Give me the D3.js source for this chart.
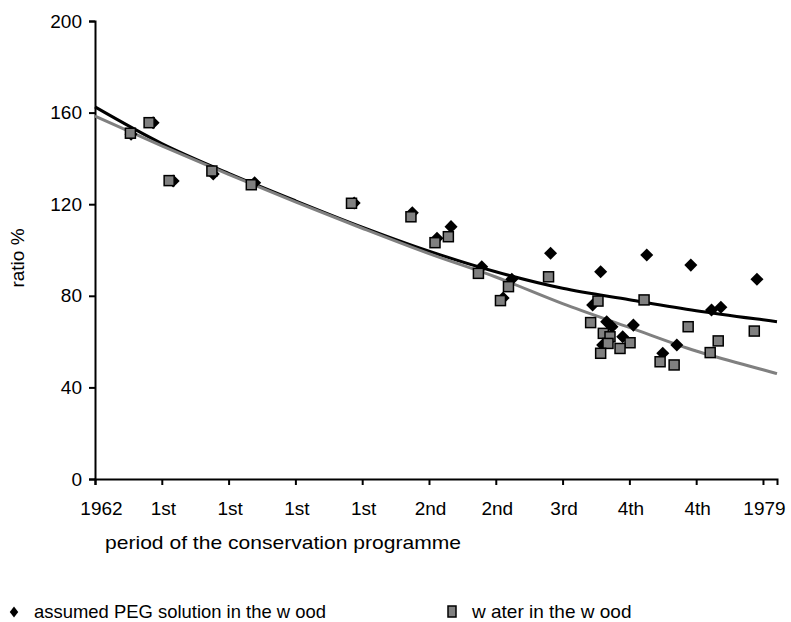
<!DOCTYPE html>
<html><head><meta charset="utf-8">
<script src="https://cdn.jsdelivr.net/npm/d3@7"></script>
<style>body{margin:0;background:#fff;} text{font-family:"Liberation Sans",Arial,sans-serif;}</style>
</head><body><svg id="c" width="791" height="622"></svg>
<script>
const tickLabels = ["1962","1st","1st","1st","1st","2nd","2nd","3rd","4th","4th","1979"];
const yTicks = [0,40,80,120,160,200];
// PEG series: [category position, ratio %]
const pegX = [0.54,0.87,1.17,1.77,2.39,3.88,4.75,5.12,5.33,5.79,6.24,6.11,6.82,7.57,8.26,8.92,9.91,7.45,9.23,9.37,7.66,7.74,8.06,7.90,7.60,8.71,8.50];
const pegY = [150.5,155.6,130.1,133.2,129.4,120.5,116.3,105.1,110.2,92.7,87.2,79,98.6,90.5,97.8,93.4,87.2,76,73.8,75.0,68.7,66.5,67.2,62.1,58.5,58.5,54.9];
// water series
const waterX = [0.53,0.81,1.11,1.75,2.34,3.84,4.73,5.09,5.29,5.74,6.19,6.07,6.79,7.53,8.22,7.42,7.61,7.71,7.68,8.01,7.86,7.57,8.88,9.33,9.21,8.46,8.67,9.87];
const waterY = [151,155.6,130.3,134.5,128.5,120.4,114.5,103.2,105.8,89.8,84.0,77.9,88.3,77.7,78.2,68.3,63.6,62.1,59.2,59.5,57.0,54.9,66.5,60.3,55.2,51.2,49.8,64.6];
// trendlines sampled at category positions
const trendX = [0,1,2,3,4,5,6,7,8,9,10,10.21];
const pegTrend = [162.5,146.5,133.5,121.5,110,99.5,90.5,83.3,78.3,73.5,69.5,68.7];
const waterTrend = [158.5,145.5,133,121,109.5,98.4,88.2,76.6,66.2,55.9,47.7,46];
const legendLabels = ["assumed PEG solution in the w ood","w ater in the w ood"];

const FS = 19;
const svg = d3.select("#c");
const x = d3.scaleLinear().domain([0,10.21]).range([95,777]);
const y = d3.scaleLinear().domain([0,200]).range([479,21]);

// axes
const xAxis = d3.axisBottom(x).tickValues(d3.range(tickLabels.length)).tickFormat(i=>tickLabels[i]).tickSizeOuter(0).tickSize(6).tickPadding(17);
const gx = svg.append("g").attr("transform","translate(0,479)").call(xAxis);
gx.attr("font-size",FS).attr("font-family","Liberation Sans, Arial, sans-serif");
gx.select(".domain").attr("stroke","#000").attr("stroke-width",2);
gx.selectAll(".tick line").attr("stroke","#000").attr("stroke-width",2);
gx.selectAll("text").attr("fill","#000").attr("dx",(d,i)=>i===0?6:1);

const yAxis = d3.axisLeft(y).tickValues(yTicks).tickSizeOuter(0).tickSize(6).tickPadding(7);
const gy = svg.append("g").attr("transform","translate(95,0)").call(yAxis);
gy.attr("font-size",FS).attr("font-family","Liberation Sans, Arial, sans-serif");
gy.select(".domain").attr("stroke","#000").attr("stroke-width",2);
gy.selectAll(".tick line").attr("stroke","#000").attr("stroke-width",2);
gy.selectAll("text").attr("fill","#000");

svg.append("text").attr("x",105).attr("y",549).attr("font-size",FS)
  .attr("textLength",356).attr("lengthAdjust","spacingAndGlyphs").text("period of the conservation programme");
svg.append("text").attr("transform","translate(24,258) rotate(-90)").attr("text-anchor","middle").attr("font-size",FS).text("ratio %");

// trendlines
const line = d3.line().x(d=>x(d[0])).y(d=>y(d[1])).curve(d3.curveMonotoneX);
svg.append("path").datum(trendX.map((v,i)=>[v,pegTrend[i]])).attr("d",line).attr("fill","none").attr("stroke","#000").attr("stroke-width",3);
svg.append("path").datum(trendX.map((v,i)=>[v,waterTrend[i]])).attr("d",line).attr("fill","none").attr("stroke","#808080").attr("stroke-width",3);

// markers
const diamond = d3.symbol().type(d3.symbolSquare).size(85);
svg.append("g").selectAll("path").data(pegX.map((v,i)=>[v,pegY[i]])).join("path")
  .attr("d",diamond).attr("transform",d=>`translate(${x(d[0])},${y(d[1])}) rotate(45)`).attr("fill","#000");
svg.append("g").selectAll("rect").data(waterX.map((v,i)=>[v,waterY[i]])).join("rect")
  .attr("x",d=>x(d[0])-5).attr("y",d=>y(d[1])-5).attr("width",10).attr("height",10)
  .attr("fill","#808080").attr("stroke","#000").attr("stroke-width",1.5);

// legend
const lg = svg.append("g");
lg.append("path").attr("d",d3.symbol().type(d3.symbolSquare).size(50)()).attr("transform","translate(14,612) scale(0.85,1.1) rotate(45)").attr("fill","#000");
lg.append("text").attr("x",34).attr("y",618).attr("font-size",FS).attr("textLength",292).attr("lengthAdjust","spacingAndGlyphs").text(legendLabels[0]);
lg.append("rect").attr("x",448).attr("y",606).attr("width",8).attr("height",11).attr("fill","#808080").attr("stroke","#000").attr("stroke-width",1.5);
lg.append("text").attr("x",472).attr("y",618).attr("font-size",FS).text(legendLabels[1]);
</script></body></html>
